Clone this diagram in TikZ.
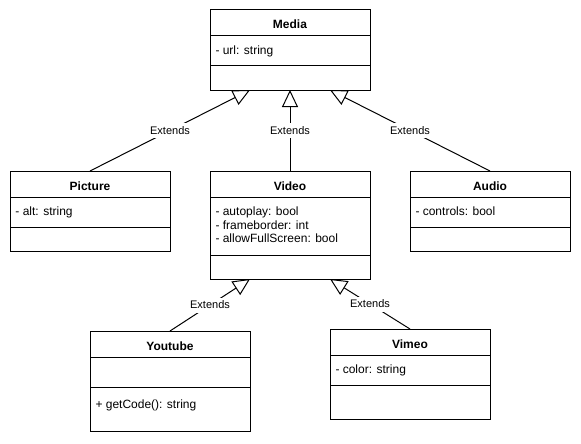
\documentclass[tikz,border=0pt]{standalone}
\usepackage{fontspec}
\setmainfont{Liberation Sans}
\usetikzlibrary{positioning,arrows.meta}
\begin{document}
\begin{tikzpicture}[x=1pt,y=-1pt,line width=1pt]
	\tikzset{>={Triangle[open,length=17pt,width=16pt]}}
	\tikzset{box/.style={draw,fill=white,outer sep=0pt,inner sep=0pt,minimum width=160pt}}
	\tikzset{head/.style={box,minimum height=26pt,font=\fontsize{12}{14}\selectfont\bfseries,text height=12pt,text depth=0pt}}
	\tikzset{row/.style={anchor=base west,inner sep=0pt,font=\fontsize{12}{14}\selectfont}}
	\tikzset{lbl/.style={fill=white,inner sep=1pt,minimum height=15pt,font=\fontsize{11}{13}\selectfont}}
	\useasboundingbox (0,0) rectangle (581,444);
	
	% Media
	\node[head] (media) at (290,23) {Media};
	\node[box,minimum height=30pt,below=0pt of media] (media-at) {};
	\node[box,minimum height=24pt,below=0pt of media-at] (media-op) {};
	\node[row] (media-a1) at (215,54.5) {- url: string};
	
	% Picture
	\node[head] (picture) at (90,184) {Picture};
	\node[box,minimum height=30pt,below=0pt of picture] (picture-at) {};
	\node[box,minimum height=24pt,below=0pt of picture-at] (picture-op) {};
	\node[row] (picture-a1) at (15,215.5) {- alt: string};
	
	% Video
	\node[head] (video) at (290,184) {Video};
	\node[box,minimum height=58pt,below=0pt of video] (video-at) {};
	\node[box,minimum height=24pt,below=0pt of video-at] (video-op) {};
	\foreach \txt [count=\i] in {- autoplay: bool,- frameborder: int,- allowFullScreen: bool}
	\node[row] (video-a\i) at (215,{215.5+13.5*(\i-1)}) {\txt};
	
	% Audio
	\node[head] (audio) at (490,184) {Audio};
	\node[box,minimum height=30pt,below=0pt of audio] (audio-at) {};
	\node[box,minimum height=24pt,below=0pt of audio-at] (audio-op) {};
	\node[row] (audio-a1) at (415,215.5) {- controls: bool};
	
	% Youtube
	\node[head] (youtube) at (170,344) {Youtube};
	\node[box,minimum height=30pt,below=0pt of youtube] (youtube-at) {};
	\node[box,minimum height=44pt,below=0pt of youtube-at] (youtube-op) {};
	\node[row] (youtube-m1) at (95,408) {+ getCode(): string};
	
	% Vimeo
	\node[head] (vimeo) at (410,342) {Vimeo};
	\node[box,minimum height=30pt,below=0pt of vimeo] (vimeo-at) {};
	\node[box,minimum height=34pt,below=0pt of vimeo-at] (vimeo-op) {};
	\node[row] (vimeo-a1) at (335,373.5) {- color: string};
	
	% generalisations
	\draw[->] (picture.north) -- node[lbl] (ext-pic) {Extends} ([xshift=40pt]media-op.south west);
	\draw[->] (video.north) -- node[lbl] (ext-vid) {Extends} (media-op.south);
	\draw[->] (audio.north) -- node[lbl] (ext-aud) {Extends} ([xshift=-40pt]media-op.south east);
	\draw[->] (youtube.north) -- node[lbl] (ext-yt) {Extends} ([xshift=40pt]video-op.south west);
	\draw[->] (vimeo.north) -- node[lbl] (ext-vim) {Extends} ([xshift=-40pt]video-op.south east);
	
\end{tikzpicture}
\end{document}
